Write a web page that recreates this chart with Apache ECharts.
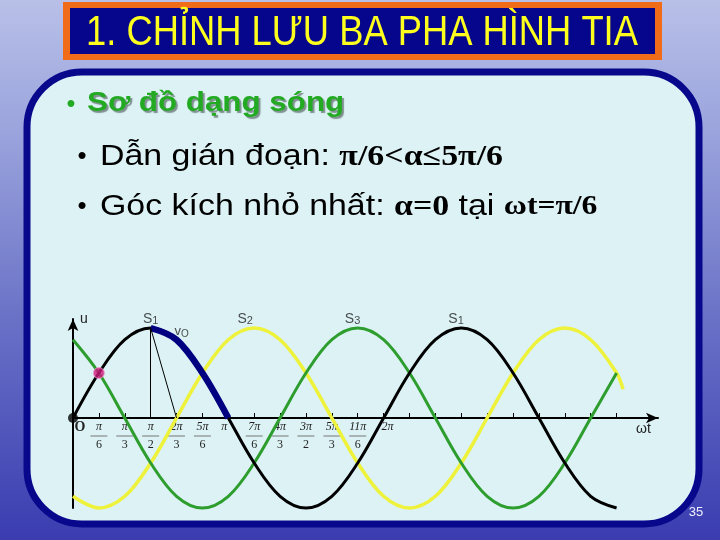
<!DOCTYPE html>
<html><head><meta charset="utf-8">
<script src="https://cdn.jsdelivr.net/npm/echarts@6/dist/echarts.min.js"></script>
<style>html,body{margin:0;padding:0;background:#6a72c6}#c{width:720px;height:540px}</style>
</head><body><div id="c"></div>
<script>
// x positions in multiples of pi/6
const steps = [0,1,2,3,4,5,6,7,8,9,10,11,12,13,14,15,16,17,18,19,20,21];
// phase voltages (amplitude = 1)
const phaseA = [0,0.5,0.87,1,0.87,0.5,0,-0.5,-0.87,-1,-0.87,-0.5,0,0.5,0.87,1,0.87,0.5,0,-0.5,-0.87,-1];
const phaseBSteps = [0,1,2,3,4,5,6,7,8,9,10,11,12,13,14,15,16,17,18,19,20,21,21.25];
const phaseB = [-0.87,-1,-0.87,-0.5,0,0.5,0.87,1,0.87,0.5,0,-0.5,-0.87,-1,-0.87,-0.5,0,0.5,0.87,1,0.87,0.5,0.32];
const phaseC = [0.87,0.5,0,-0.5,-0.87,-1,-0.87,-0.5,0,0.5,0.87,1,0.87,0.5,0,-0.5,-0.87,-1,-0.87,-0.5,0,0.5];
// output voltage vO (thick segment)
const outSteps = [3,4,5,6];
const outValues = [1,0.87,0.5,0];
// guide lines from the S1 peak
const guideStart = [3,1];
const guideEnds = [[3,0],[4,0]];
// firing point and origin
const firingPoint = [1,0.5];
const originPoint = [0,0];
// switch labels
const switchSteps = [3,6.65,10.8,14.8];
const switchSubs = ['1','2','3','1'];
const voutLabelPos = [4.2,0.96];
// axis ticks
const tickSteps = [1,2,3,4,5,6,7,8,9,10,11,12,13,14,15,16,17,18,19,20,21];
const labelSteps = [0,1,2,3,4,5,6,7,8,9,10,11,12];
const tickNums = ['O','π','π','π','2π','5π','π','7π','4π','3π','5π','11π','2π'];
const tickDens = ['','6','3','2','3','6','','6','3','2','3','6',''];

const chart = echarts.init(document.getElementById('c'), null, {renderer:'canvas'});

const sans = '"Liberation Sans", Arial, sans-serif';
const serif = '"Liberation Serif", "Times New Roman", serif';

const option = {
  animation: false,
  backgroundColor: 'transparent',
  grid: {left:73, right:62, top:319, bottom:32, containLabel:false, outerBoundsMode:'none'},
  xAxis: {
    type:'value', min:0, max:22.6, interval:1, offset:-90,
    name:'ωt', nameLocation:'end', nameGap:-22,
    nameTextStyle:{fontFamily:sans, fontSize:14, color:'#222', verticalAlign:'top', align:'left', padding:[4,0,0,0]},
    axisLine:{show:true, onZero:false, symbol:['none','arrow'], symbolSize:[8,12], lineStyle:{color:'#000', width:2}},
    axisTick:{show:true, inside:true, length:5, customValues:tickSteps, lineStyle:{color:'#000', width:1}},
    splitLine:{show:false},
    axisLabel:{
      show:true, margin:3, customValues:labelSteps,
      formatter:function(v){
        const i = labelSteps.indexOf(Math.round(v));
        if (i < 0) return '';
        if (i === 0) return '{o|' + tickNums[i] + '}';
        if (i === 6) return '{nl|' + tickNums[i] + '}';
        if (i === 12) return '{nr|' + tickNums[i] + '}';
        return '{n|' + tickNums[i] + '}\n{b| }\n{d|' + tickDens[i] + '}';
      },
      rich:{
        n:{fontFamily:serif, fontStyle:'italic', fontSize:12, lineHeight:12, color:'#222', align:'center'},
        nl:{fontFamily:serif, fontStyle:'italic', fontSize:12, lineHeight:12, color:'#222', padding:[0,8,0,0]},
        nr:{fontFamily:serif, fontStyle:'italic', fontSize:12, lineHeight:12, color:'#222', padding:[0,0,0,8]},
        b:{width:17, height:1, lineHeight:6, backgroundColor:'#777', align:'center'},
        d:{fontFamily:serif, fontSize:12, lineHeight:12, color:'#222', align:'center'},
        o:{fontFamily:serif, fontWeight:'bold', fontSize:14, lineHeight:12, color:'#222', padding:[0,0,0,14]}
      }
    }
  },
  yAxis: {
    type:'value', min:-1, max:1.1,
    name:'u', nameLocation:'end', nameGap:0,
    nameTextStyle:{fontFamily:sans, fontSize:14, color:'#222', align:'left', verticalAlign:'middle', padding:[0,0,4,7]},
    axisLine:{show:true, onZero:false, symbol:['none','arrow'], symbolSize:[8,12], lineStyle:{color:'#000', width:2}},
    axisTick:{show:false}, axisLabel:{show:false}, splitLine:{show:false}
  },
  series: [
    {type:'line', name:'yellow', data:phaseBSteps.map((x,i)=>[x, phaseB[i]]), smooth:0.35, symbol:'none', clip:false,
      lineStyle:{color:'#eef23a', width:3.5}, z:2},
    {type:'line', name:'green', data:steps.map((x,i)=>[x, phaseC[i]]), smooth:0.35, symbol:'none', clip:false,
      lineStyle:{color:'#2d9e2d', width:3}, z:3},
    {type:'line', name:'black', data:steps.map((x,i)=>[x, phaseA[i]]), smooth:0.35, symbol:'none', clip:false,
      lineStyle:{color:'#000', width:3}, z:4},
    {type:'line', name:'vO', data:outSteps.map((x,i)=>[x, outValues[i]]), smooth:0.35, symbol:'none', clip:false,
      lineStyle:{color:'#000080', width:6.5}, z:5},
    {type:'lines', coordinateSystem:'cartesian2d', z:6,
      data: guideEnds.map(e=>({coords:[guideStart, e]})),
      lineStyle:{color:'#000', width:1, opacity:1}},
    {type:'scatter', z:7, data:[firingPoint], symbolSize:11,
      itemStyle:{color:'#d0197f', borderColor:'#f0a0d0', borderWidth:1}},
    {type:'scatter', z:7, data:[originPoint], symbolSize:10, itemStyle:{color:'#000'}},
    {type:'scatter', z:8, symbolSize:0, silent:true,
      data: switchSteps.map((x,i)=>({value:[x,1], sub:switchSubs[i]})),
      label:{show:true, position:'top', distance:2,
        formatter:function(p){ return '{s|S}{u|' + p.data.sub + '}'; },
        rich:{s:{fontFamily:sans, fontSize:14, color:'#222', verticalAlign:'bottom'},
              u:{fontFamily:sans, fontSize:11, color:'#222', padding:[5,0,0,0], verticalAlign:'bottom'}}}},
    {type:'scatter', z:8, symbolSize:0, silent:true, data:[voutLabelPos],
      label:{show:true, position:'inside',
        formatter:'{v|v}{o|O}',
        rich:{v:{fontFamily:sans, fontSize:13, color:'#222'}, o:{fontFamily:sans, fontSize:10, color:'#222', padding:[5,0,0,0]}}}}
  ],
  graphic: [
    {type:'rect', z:-30, silent:true, shape:{x:0,y:0,width:720,height:540},
      style:{fill:new echarts.graphic.LinearGradient(0,0,0,1,[
        {offset:0,color:'#b8c0e8'},{offset:0.25,color:'#9aa3dc'},{offset:0.6,color:'#6870c6'},{offset:1,color:'#3a3cb0'}])}},
    {type:'rect', z:-20, silent:true, shape:{x:63,y:2,width:599,height:58}, style:{fill:'#f06c18'}},
    {type:'rect', z:-19, silent:true, shape:{x:70,y:8,width:585,height:46}, style:{fill:'#06068c'}},
    {type:'text', z:-18, silent:true, x:362, y:33, scaleX:0.865,
      style:{text:'1. CHỈNH LƯU BA PHA HÌNH TIA', font:'42px '+sans, fill:'#ffff1e', textAlign:'center', textVerticalAlign:'middle'}},
    {type:'rect', z:-20, silent:true, shape:{x:27,y:72,width:672,height:452,r:55},
      style:{fill:'#dcf2f5', stroke:'#08088c', lineWidth:7}},
    {type:'text', z:-10, silent:true, x:71, y:104,
      style:{text:'•', font:'bold 24px '+sans, fill:'#22aa22', textAlign:'center', textVerticalAlign:'middle',
        textShadowColor:'#7f8f8f', textShadowOffsetX:2, textShadowOffsetY:2}},
    {type:'text', z:-10, silent:true, x:87, y:104, scaleX:1.16,
      style:{text:'Sơ đồ dạng sóng', font:'bold 27px '+sans, fill:'#22aa22', textAlign:'left', textVerticalAlign:'middle',
        textShadowColor:'#7f8f8f', textShadowOffsetX:2, textShadowOffsetY:2, textShadowBlur:1}},
    {type:'text', z:-10, silent:true, x:82, y:157,
      style:{text:'•', font:'26px '+sans, fill:'#000', textAlign:'center', textVerticalAlign:'middle'}},
    {type:'text', z:-10, silent:true, x:100, y:157, scaleX:1.13,
      style:{text:'{t|Dẫn gián đoạn: }{m|π/6<α≤5π/6}', textAlign:'left', textVerticalAlign:'middle',
        rich:{t:{fontFamily:sans, fontSize:30, color:'#000'},
              m:{fontFamily:serif, fontWeight:'bold', fontSize:30, color:'#000'}}}},
    {type:'text', z:-10, silent:true, x:82, y:207,
      style:{text:'•', font:'26px '+sans, fill:'#000', textAlign:'center', textVerticalAlign:'middle'}},
    {type:'text', z:-10, silent:true, x:100, y:207, scaleX:1.13,
      style:{text:'{t|Góc kích nhỏ nhất: }{m|α=0}{t| tại }{w|ωt=π/6}', textAlign:'left', textVerticalAlign:'middle',
        rich:{t:{fontFamily:sans, fontSize:30, color:'#000'},
              m:{fontFamily:serif, fontWeight:'bold', fontSize:30, color:'#000'},
              w:{fontFamily:serif, fontWeight:'bold', fontSize:28, color:'#000'}}}},
    {type:'text', z:-10, silent:true, x:696, y:512,
      style:{text:'35', font:'13px '+sans, fill:'#eef0ff', textAlign:'center', textVerticalAlign:'middle'}}
  ]
};
chart.setOption(option);
</script></body></html>
